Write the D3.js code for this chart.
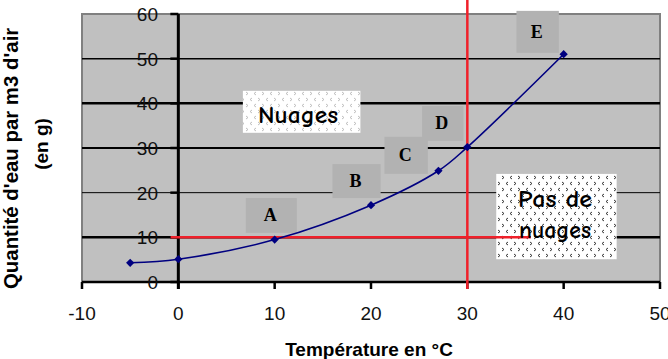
<!DOCTYPE html>
<html><head><meta charset="utf-8">
<script src="https://cdn.jsdelivr.net/npm/d3@7"></script>
<style>html,body{margin:0;padding:0;background:#fff;overflow:hidden}</style>
</head><body>
<svg id="c" width="668" height="359"></svg>
<script>
// ---- data ----
const temps = [-5, 0, 10, 20, 27, 30, 40];
const water = [4.3, 5.1, 9.5, 17.2, 24.9, 30.2, 51];
const xTicks = [-10, 0, 10, 20, 30, 40, 50];
const yTicks = [0, 10, 20, 30, 40, 50, 60];
const pointLetters = ["A", "B", "C", "D", "E"];
const xTitle = "Température en °C";
const yTitle1 = "Quantité d'eau par m3 d'air";
const yTitle2 = "(en g)";
const zoneLabels = ["Nuages", "Pas de nuages"];
const thresholdTemp = 30;
const thresholdWater = 10;

// ---- layout (annotation boxes in data units) ----
const letterBoxes = [
  {x0: 7.0, x1: 12.3, y0: 11.0, y1: 18.8},
  {x0: 16.0, x1: 21.0, y0: 18.8, y1: 26.4},
  {x0: 21.4, x1: 25.9, y0: 24.2, y1: 32.5},
  {x0: 25.3, x1: 29.6, y0: 31.6, y1: 39.4},
  {x0: 35.1, x1: 39.5, y0: 51.3, y1: 60.7}
];
const zoneBoxes = [
  {x0: 6.7, x1: 18.9, y0: 33.4, y1: 42.8},
  {x0: 33.0, x1: 45.5, y0: 5.1, y1: 24.2}
];

const svg = d3.select("#c");
const x = d3.scaleLinear().domain([-10, 50]).range([82, 660]);
const y = d3.scaleLinear().domain([0, 60]).range([282, 14]);

// patterns
const defs = svg.append("defs");
function mkPattern(id, col) {
  const p = defs.append("pattern").attr("id", id).attr("patternUnits", "userSpaceOnUse")
    .attr("width", 16).attr("height", 12);
  p.append("rect").attr("width", 16).attr("height", 12).attr("fill", "#fff");
  const marks = [[2, 2, ">"], [10, 2, "<"], [6, 8, ">"], [14, 8, "<"]];
  marks.forEach(([mx, my, m]) => {
    const d = m === ">" ? `M${mx},${my} l2,1.5 l-2,1.5` : `M${mx + 2},${my} l-2,1.5 l2,1.5`;
    p.append("path").attr("d", d).attr("fill", "none").attr("stroke", col).attr("stroke-width", 0.9);
  });
}
mkPattern("patLight", "#b8b8b8");
mkPattern("patDark", "#222");

// plot area
svg.append("rect").attr("x", x(-10)).attr("y", y(60)).attr("width", x(50) - x(-10)).attr("height", y(0) - y(60))
  .attr("fill", "#c0c0c0").attr("stroke", "#808080").attr("stroke-width", 2);

// gridlines
const gridW = {10: 2.5, 20: 1, 30: 2, 40: 2.5, 50: 1.5};
svg.append("g").selectAll("line").data(yTicks.filter(v => v > 0 && v < 60)).join("line")
  .attr("x1", x(-10)).attr("x2", x(50)).attr("y1", d => y(d)).attr("y2", d => y(d))
  .attr("stroke", "#000").attr("stroke-width", d => gridW[d]);

// zone label boxes
svg.append("g").selectAll("rect").data(zoneBoxes).join("rect")
  .attr("x", d => x(d.x0)).attr("y", d => y(d.y1)).attr("width", d => x(d.x1) - x(d.x0)).attr("height", d => y(d.y0) - y(d.y1))
  .attr("fill", (d, i) => i === 0 ? "url(#patLight)" : "url(#patDark)");

// letter boxes
const lb = svg.append("g");
lb.selectAll("rect").data(letterBoxes).join("rect")
  .attr("x", d => x(d.x0)).attr("y", d => y(d.y1)).attr("width", d => x(d.x1) - x(d.x0)).attr("height", d => y(d.y0) - y(d.y1))
  .attr("fill", "#b2b2b2");
lb.selectAll("text").data(letterBoxes).join("text")
  .attr("x", d => (x(d.x0) + x(d.x1)) / 2 - 1).attr("y", d => (y(d.y0) + y(d.y1)) / 2 + 6)
  .attr("text-anchor", "middle").attr("font-family", "Liberation Serif, serif").attr("font-weight", "bold")
  .attr("font-size", 18).text((d, i) => pointLetters[i]);

// x axis
svg.append("line").attr("x1", x(-10)).attr("x2", x(50)).attr("y1", y(0)).attr("y2", y(0)).attr("stroke", "#000").attr("stroke-width", 2.5);
svg.append("g").selectAll("line").data(xTicks).join("line")
  .attr("x1", d => x(d)).attr("x2", d => x(d)).attr("y1", y(0)).attr("y2", y(0) + 7)
  .attr("stroke", "#000").attr("stroke-width", 2.5);
svg.append("g").selectAll("text").data(xTicks).join("text")
  .attr("x", d => x(d)).attr("y", 320).attr("text-anchor", "middle")
  .attr("font-family", "Liberation Sans, Arial, sans-serif").attr("font-size", 19).attr("fill", "#111").text(d => d);

// y axis at x=0
svg.append("line").attr("x1", x(0)).attr("x2", x(0)).attr("y1", y(60)).attr("y2", y(0) + 7).attr("stroke", "#000").attr("stroke-width", 3);
svg.append("g").selectAll("line").data(yTicks).join("line")
  .attr("x1", x(0) - 8).attr("x2", x(0)).attr("y1", d => y(d)).attr("y2", d => y(d))
  .attr("stroke", "#000").attr("stroke-width", 2.5);
svg.append("g").selectAll("text").data(yTicks).join("text")
  .attr("x", 158).attr("y", d => y(d) + 7).attr("text-anchor", "end")
  .attr("font-family", "Liberation Sans, Arial, sans-serif").attr("font-size", 19).attr("fill", "#111").text(d => d);

// red threshold lines
svg.append("line").attr("x1", x(-0.8)).attr("x2", x(36.6)).attr("y1", y(thresholdWater)).attr("y2", y(thresholdWater))
  .attr("stroke", "#f0202a").attr("stroke-width", 2.5);
svg.append("line").attr("x1", x(thresholdTemp)).attr("x2", x(thresholdTemp)).attr("y1", 0).attr("y2", y(0) + 7)
  .attr("stroke", "#f0202a").attr("stroke-width", 2.5);

// zone texts
const zf = "'Comic Sans MS', 'Comic Neue', 'Noto Sans', sans-serif";
function zoneText(tx, ty, s, len) {
  svg.append("text").attr("x", tx).attr("y", ty).attr("text-anchor", "middle")
    .attr("font-family", zf).attr("font-weight", "600").attr("font-size", 24)
    .attr("textLength", len).attr("lengthAdjust", "spacingAndGlyphs").text(s);
}
zoneText(298, 123, zoneLabels[0], 80);
const pw = zoneLabels[1].split(" ");
zoneText(555, 207, pw.slice(0, 2).join(" "), 74);
zoneText(555, 238, pw[2], 72);

// curve
const pts = temps.map((t, i) => [t, water[i]]);
svg.append("path").datum(pts)
  .attr("d", d3.line().x(d => x(d[0])).y(d => y(d[1])).curve(d3.curveCatmullRom.alpha(0.5)))
  .attr("fill", "none").attr("stroke", "#000080").attr("stroke-width", 1.6);
svg.append("g").selectAll("path").data(pts).join("path")
  .attr("d", d3.symbol(d3.symbolSquare, 34)())
  .attr("transform", d => `translate(${x(d[0])},${y(d[1])}) rotate(45)`)
  .attr("fill", "#000080");

// titles
svg.append("text").attr("x", 369).attr("y", 356).attr("text-anchor", "middle")
  .attr("font-family", "Liberation Sans, Arial, sans-serif").attr("font-weight", "bold").attr("font-size", 19).text(xTitle);
svg.append("text").attr("transform", "translate(18,289) rotate(-90)").attr("text-anchor", "start")
  .attr("font-family", "Liberation Sans, Arial, sans-serif").attr("font-weight", "bold").attr("font-size", 20.4).text(yTitle1);
svg.append("text").attr("transform", "translate(48,144) rotate(-90)").attr("text-anchor", "middle")
  .attr("font-family", "Liberation Sans, Arial, sans-serif").attr("font-weight", "bold").attr("font-size", 19).text(yTitle2);
</script>
</body></html>
